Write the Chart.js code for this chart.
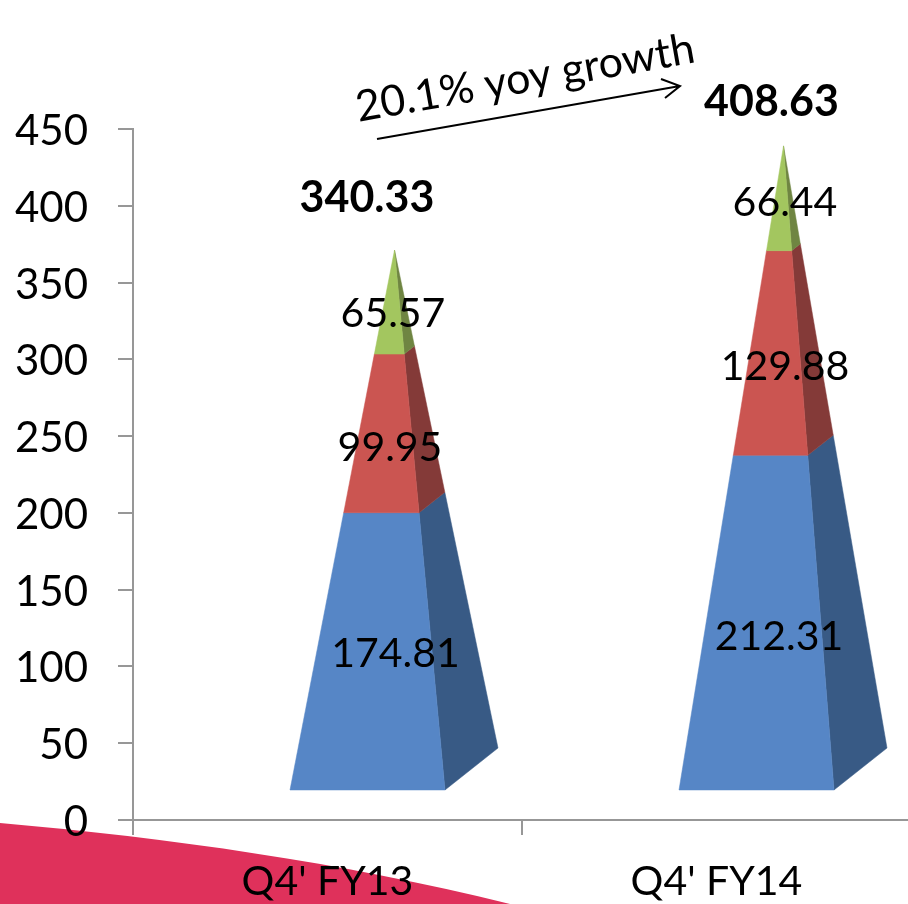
<!DOCTYPE html>
<html>
<head>
<meta charset="utf-8">
<title>Q4 FY13 vs Q4 FY14</title>
<script src="https://cdn.jsdelivr.net/npm/chart.js@4/dist/chart.umd.min.js"></script>
<style>
  html, body { margin: 0; padding: 0; background: #fff; overflow: hidden; }
  canvas { display: block; }
</style>
</head>
<body>
<!-- a touch wider than the window so the last category tick falls off the edge -->
<canvas id="pyramidChart" width="912" height="904"></canvas>
<script>
// Quarterly totals as stacked 3D-looking pyramids
const quarters = ["Q4' FY13", "Q4' FY14"];
const lowerSegment  = [174.81, 212.31];
const middleSegment = [99.95, 129.88];
const upperSegment  = [65.57, 66.44];
const totals = [340.33, 408.63];
const yTicks = [0, 50, 100, 150, 200, 250, 300, 350, 400, 450];
const growthLabel = '20.1% yoy growth';

const FONT = 'Lato, "Open Sans", sans-serif';
const INK = '#000';
const AXIS = '#979797';
const SWOOSH = '#df315b';

const frontColors = ['#5686c6', '#cb5551', '#a3c65f'];
const sideColors  = ['#385a85', '#843a38', '#6f8542'];

// projection of the pyramid, relative to the category centre and the zero line
const BASE_HALF = 77.5;
const BASE_SHIFT = 40;    // front face is pushed right of the category centre
const FRONT_DROP = 30;    // front edge sits above the axis
const DEPTH_X = 53;
const DEPTH_Y = 42;
const APEX_X = 67;
const APEX_Y = 51;
const HEIGHT_K = 0.993;

// label nudges from the category centre / segment middle, per quarter
const segNudge = [
  [[68, -32], [62.5, -27], [65.5, -34]],
  [[62.5, -20], [68.5, -27], [68.5, -41]]
];
const totalNudge = [[39.5, -99], [55, -90]];

const pyramids = {
  id: 'pyramids',
  afterLayout(chart) {
    // value labels sit a little below their tick marks
    chart.scales.y.getLabelItems().forEach(item => { item.options.translation[1] += 2.5; });
  },
  beforeDraw(chart) {
    // pink swoosh in the bottom left corner
    const { ctx } = chart;
    ctx.save();
    ctx.fillStyle = SWOOSH;
    ctx.beginPath();
    ctx.moveTo(0, 823);
    ctx.bezierCurveTo(170, 838, 340, 862, 510, 904);
    ctx.lineTo(0, 904);
    ctx.closePath();
    ctx.fill();
    ctx.restore();
  },
  beforeDatasetsDraw(chart) {
    const { ctx, scales: { x, y } } = chart;
    const y0 = y.getPixelForValue(0);

    totals.forEach((total, i) => {
      const cx = x.getPixelForValue(i);
      const apex = {
        x: cx + APEX_X,
        y: y0 + (y.getPixelForValue(total) - y0) * HEIGHT_K - APEX_Y
      };
      const fl = { x: cx + BASE_SHIFT - BASE_HALF, y: y0 - FRONT_DROP };
      const fr = { x: cx + BASE_SHIFT + BASE_HALF, y: y0 - FRONT_DROP };
      const br = { x: fr.x + DEPTH_X, y: fr.y - DEPTH_Y };
      const along = (p, t) => ({ x: p.x + (apex.x - p.x) * t, y: p.y + (apex.y - p.y) * t });

      let acc = 0;
      chart.data.datasets.forEach((ds, d) => {
        const t0 = acc / total;
        acc += ds.data[i];
        const t1 = acc / total;

        const quad = (a, b, color) => {
          ctx.fillStyle = color;
          ctx.strokeStyle = color;
          ctx.lineWidth = 0.5;
          ctx.beginPath();
          ctx.moveTo(along(a, t0).x, along(a, t0).y);
          ctx.lineTo(along(b, t0).x, along(b, t0).y);
          ctx.lineTo(along(b, t1).x, along(b, t1).y);
          ctx.lineTo(along(a, t1).x, along(a, t1).y);
          ctx.closePath();
          ctx.fill();
          ctx.stroke();
        };
        quad(fr, br, sideColors[d]);
        quad(fl, fr, frontColors[d]);
      });
    });
    return false; // the plain bars are replaced by the pyramids
  },
  afterDraw(chart) {
    const { ctx, scales: { x, y } } = chart;
    ctx.save();
    ctx.fillStyle = INK;
    ctx.textAlign = 'center';
    ctx.textBaseline = 'middle';

    // segment values
    ctx.font = '41px ' + FONT;
    quarters.forEach((q, i) => {
      let acc = 0;
      chart.data.datasets.forEach((ds, d) => {
        const mid = acc + ds.data[i] / 2;
        acc += ds.data[i];
        const [nx, ny] = segNudge[i][d];
        ctx.fillText(ds.data[i].toFixed(2), x.getPixelForValue(i) + nx, y.getPixelForValue(mid) + ny);
      });
    });

    // totals above each pyramid
    ctx.font = 'bold 43px ' + FONT;
    totals.forEach((total, i) => {
      const [nx, ny] = totalNudge[i];
      ctx.fillText(total.toFixed(2), x.getPixelForValue(i) + nx, y.getPixelForValue(total) + ny);
    });

    // growth arrow
    ctx.strokeStyle = INK;
    ctx.lineWidth = 2;
    ctx.beginPath();
    ctx.moveTo(377, 139);
    ctx.lineTo(680, 86);
    ctx.moveTo(661, 79);
    ctx.lineTo(680, 86);
    ctx.lineTo(665, 98);
    ctx.stroke();

    ctx.save();
    ctx.translate(527.5, 92);
    ctx.rotate(-10 * Math.PI / 180);
    ctx.textBaseline = 'alphabetic';
    ctx.font = '43px ' + FONT;
    ctx.fillText(growthLabel, 0, 0);
    ctx.restore();

    ctx.restore();
  }
};

new Chart(document.getElementById('pyramidChart'), {
  type: 'bar',
  data: {
    labels: quarters,
    datasets: [
      { label: 'Lower', data: lowerSegment, backgroundColor: frontColors[0] },
      { label: 'Middle', data: middleSegment, backgroundColor: frontColors[1] },
      { label: 'Upper', data: upperSegment, backgroundColor: frontColors[2] }
    ]
  },
  options: {
    responsive: false,
    animation: false,
    layout: { padding: { top: 129, right: 1, bottom: 0, left: 0 } },
    plugins: { legend: { display: false }, title: { display: false }, tooltip: { enabled: false } },
    scales: {
      x: {
        stacked: true,
        grid: { drawOnChartArea: false, color: AXIS, lineWidth: 2, tickLength: 15 },
        border: { color: AXIS, width: 2 },
        ticks: { color: INK, font: { family: FONT, size: 41 }, padding: 22, maxRotation: 0 },
        afterFit(scale) { scale.height = 84; }
      },
      y: {
        stacked: true,
        min: 0,
        max: 450,
        afterBuildTicks(scale) { scale.ticks = yTicks.map(value => ({ value })); },
        grid: { drawOnChartArea: false, color: AXIS, lineWidth: 2, tickLength: 15 },
        border: { color: AXIS, width: 2 },
        ticks: { color: INK, font: { family: FONT, size: 42 }, padding: 30 },
        afterFit(scale) { scale.width = 133; }
      }
    }
  },
  plugins: [pyramids]
});
</script>
</body>
</html>
